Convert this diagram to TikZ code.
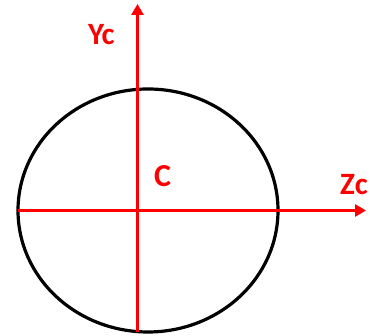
\documentclass[tikz,border=0pt]{standalone}
\usepackage{fontspec}
\setmainfont{Carlito}
\usetikzlibrary{arrows.meta}

\begin{document}
\begin{tikzpicture}[
    x=1pt,
    y=1pt,
    >={Triangle[length=11pt,width=12pt]},
    eje/.style={
        draw=red,
        line width=3.2pt
    },
    contorno/.style={
        draw=black,
        line width=3.2pt
    },
    etiqueta/.style={
        text=red,
        font=\fontsize{31}{31}\selectfont\bfseries,
        inner sep=0pt,
        anchor=base west
    }
]
    \useasboundingbox (0,0) rectangle (370,336);

    \coordinate (centro) at (148,125.5);
    \draw[contorno] (centro) ellipse [x radius=130, y radius=121.5];

    \coordinate (eje-y-ini) at (137.5,4);
    \coordinate (eje-y-fin) at (137.5,332);
    \coordinate (eje-z-ini) at (18,125.5);
    \coordinate (eje-z-fin) at (366,125.5);

    \draw[eje,->] (eje-z-ini) -- (eje-z-fin);
    \draw[eje,->] (eje-y-ini) -- (eje-y-fin);

    \node[etiqueta] (yc) at (88,291) {Yc};
    \node[etiqueta] (zc) at (340,141) {Zc};
    \node[etiqueta,font=\fontsize{32}{32}\selectfont\bfseries] (c) at (154,149) {C};
\end{tikzpicture}
\end{document}
